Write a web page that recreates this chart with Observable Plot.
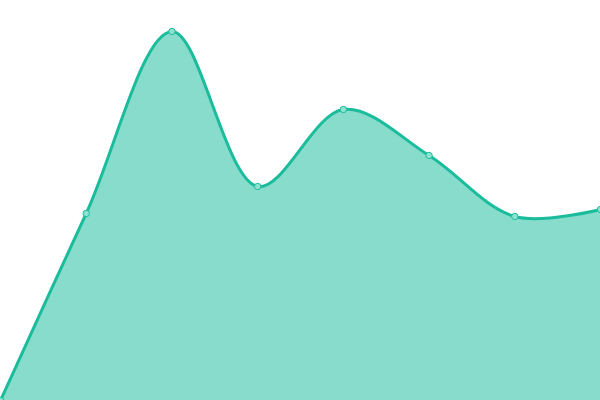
<!DOCTYPE html>
<html>
<head>
<meta charset="utf-8">
<script src="https://cdn.jsdelivr.net/npm/d3@7"></script>
<script src="https://cdn.jsdelivr.net/npm/@observablehq/plot@0.6"></script>
<style>
html, body { margin: 0; padding: 0; background: #fff; overflow: hidden; }
</style>
</head>
<body>
<div id="chart"></div>
<script>
const categories = [0, 1, 2, 3, 4, 5, 6, 7];
const values = [0, 187, 369, 214, 291, 245, 184, 191];

const data = categories.map((c, i) => ({x: c, y: values[i]}));
const color = "#1abc9c";

const chart = Plot.plot({
  width: 600,
  height: 400,
  margin: 0,
  x: {domain: [0, 7], range: [0, 600], axis: null},
  y: {domain: [0, 400], range: [400, 0], axis: null},
  marks: [
    Plot.areaY(data, {x: "x", y: "y", curve: "catmull-rom", fill: color, fillOpacity: 0.52}),
    Plot.lineY(data, {x: "x", y: "y", curve: "catmull-rom", stroke: color, strokeWidth: 3}),
    Plot.dot(data, {x: "x", y: "y", r: 3.2, fill: "#8fe2d0", stroke: color, strokeWidth: 1})
  ]
});
document.getElementById("chart").appendChild(chart);
</script>
</body>
</html>
